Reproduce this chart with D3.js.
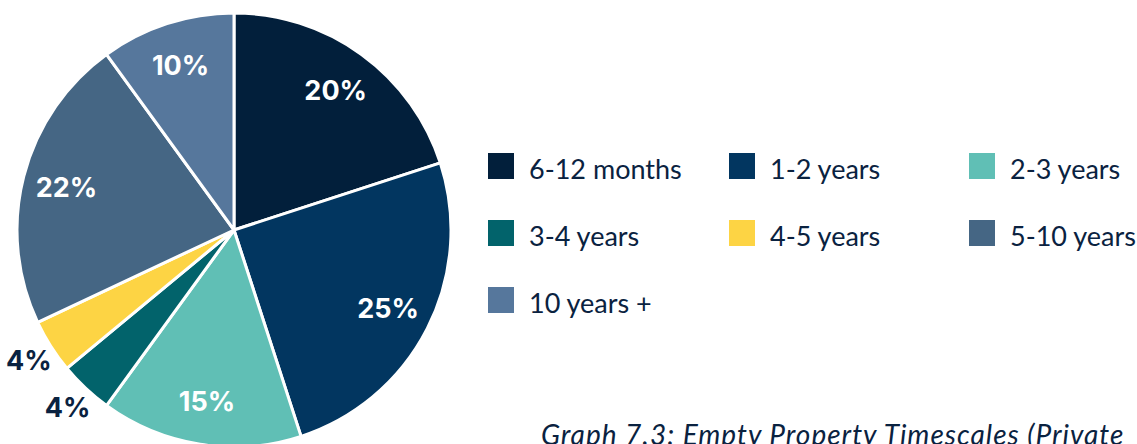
<!DOCTYPE html>
<html><head><meta charset="utf-8">
<script src="https://cdn.jsdelivr.net/npm/d3@7"></script>
<style>body{margin:0;background:#fff;overflow:hidden}svg{display:block}</style>
</head><body>
<svg id="c" width="1137" height="444"></svg>
<script>
const categories = ["6-12 months","1-2 years","2-3 years","3-4 years","4-5 years","5-10 years","10 years +"];
const values = [20,25,15,4,4,22,10];
const labels = ["20%","25%","15%","4%","4%","22%","10%"];
const outside = [false,false,false,true,true,false,false];
const colors = ["#021f3b","#023660","#60bfb5","#02636b","#fdd444","#456684","#56779c"];
const caption = "Graph 7.3: Empty Property Timescales (Private";

const svg = d3.select("#c");
const cx = 234, cy = 230, R = 217;
const data = categories.map((c,i)=>({c, v:values[i], l:labels[i], out:outside[i], col:colors[i]}));
const pie = d3.pie().sort(null).value(d=>d.v);
const arc = d3.arc().innerRadius(0).outerRadius(R);
const inLab = d3.arc().innerRadius(173).outerRadius(173);
const outLab = d3.arc().innerRadius(243).outerRadius(243);
const g = svg.append("g").attr("transform",`translate(${cx},${cy})`);
const arcs = pie(data);
g.selectAll("path").data(arcs).join("path")
  .attr("d",arc).attr("fill",d=>d.data.col)
  .attr("stroke","#fff").attr("stroke-width",3).attr("stroke-linejoin","round");
g.selectAll("text").data(arcs).join("text")
  .attr("transform",d=>`translate(${(d.data.out?outLab:inLab).centroid(d)})`)
  .attr("text-anchor","middle").attr("dy","0.36em")
  .attr("font-family","Inter, Lato, sans-serif").attr("font-weight",700)
  .attr("font-size",27)
  .attr("fill",d=>d.data.out?"#0a2240":"#fff")
  .text(d=>d.data.l);

const color = d3.scaleOrdinal().domain(categories).range(colors);
const colX = d3.scaleOrdinal().domain([0,1,2]).range([488,729,969]);
const rowY = d3.scaleOrdinal().domain([0,1,2]).range([153,220,287]);
const lg = svg.append("g");
const items = lg.selectAll("g").data(categories).join("g")
  .attr("transform",(d,i)=>`translate(${colX(i%3)},${rowY(Math.floor(i/3))})`);
items.append("rect").attr("width",26).attr("height",26).attr("fill",d=>color(d));
items.append("text").attr("x",41).attr("y",26)
  .attr("font-family","Lato, Inter, sans-serif").attr("font-weight",400)
  .attr("font-size",27).attr("fill","#0a2240").text(d=>d);

svg.append("text").attr("x",541).attr("y",445)
  .attr("font-family","Lato, Inter, sans-serif").attr("font-style","italic")
  .attr("font-size",28).attr("letter-spacing",1).attr("fill","#0a2240").text(caption);
</script>
</body></html>
